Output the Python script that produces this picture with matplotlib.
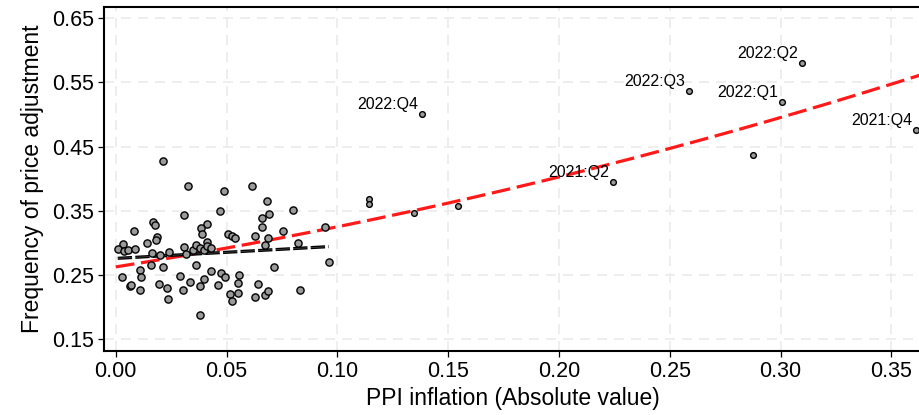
import numpy as np
import matplotlib.pyplot as plt

# observations before 2021 (the cluster)
x_pre = [0.0214, 0.0324, 0.0488, 0.0616, 0.0682, 0.0801, 0.0470, 0.0306, 0.0693, 0.0658,
         0.0170, 0.0178, 0.0410, 0.0386, 0.0660, 0.0084, 0.0755, 0.0946, 0.0388, 0.0508,
         0.0526, 0.0539, 0.0627, 0.0187, 0.0180, 0.0687, 0.0143, 0.0410, 0.0031, 0.0009,
         0.0039, 0.0056, 0.0089, 0.0164, 0.0198, 0.0241, 0.0309, 0.0319, 0.0348, 0.0360,
         0.0382, 0.0397, 0.0413, 0.0428, 0.0824, 0.0672, 0.0161, 0.0212, 0.0108, 0.0360,
         0.0428, 0.0714, 0.0961, 0.0030, 0.0113, 0.0292, 0.0397, 0.0476, 0.0495, 0.0554,
         0.0334, 0.0066, 0.0070, 0.0108, 0.0197, 0.0230, 0.0235, 0.0302, 0.0378, 0.0461,
         0.0550, 0.0517, 0.0526, 0.0553, 0.0643, 0.0630, 0.0673, 0.0689, 0.0830, 0.0379]
y_pre = [0.428, 0.389, 0.380, 0.389, 0.365, 0.351, 0.349, 0.344, 0.345, 0.338,
         0.332, 0.328, 0.330, 0.323, 0.325, 0.319, 0.319, 0.324, 0.314, 0.313,
         0.310, 0.307, 0.310, 0.309, 0.305, 0.308, 0.300, 0.302, 0.298, 0.291,
         0.287, 0.288, 0.290, 0.284, 0.281, 0.285, 0.294, 0.283, 0.288, 0.296,
         0.292, 0.289, 0.295, 0.292, 0.300, 0.296, 0.266, 0.262, 0.258, 0.265,
         0.256, 0.263, 0.270, 0.247, 0.246, 0.249, 0.244, 0.253, 0.247, 0.250,
         0.239, 0.232, 0.234, 0.227, 0.235, 0.230, 0.213, 0.226, 0.233, 0.234,
         0.238, 0.220, 0.210, 0.222, 0.236, 0.216, 0.219, 0.225, 0.226, 0.187]

# recent observations
x_post = [0.1143, 0.1143, 0.1347, 0.1543, 0.1382, 0.2244, 0.2587, 0.3096, 0.3005, 0.2875, 0.3612]
y_post = [0.368, 0.361, 0.346, 0.358, 0.501, 0.395, 0.537, 0.580, 0.520, 0.437, 0.476]
labels_post = ['', '', '', '', '2022:Q4', '2021:Q2', '2022:Q3', '2022:Q2', '2022:Q1', '', '2021:Q4']

xticks = [0.00, 0.05, 0.10, 0.15, 0.20, 0.25, 0.30, 0.35]
yticks = [0.15, 0.25, 0.35, 0.45, 0.55, 0.65]

plt.rcParams['font.family'] = ['Liberation Sans', 'DejaVu Sans']

fig = plt.figure(figsize=(9.2, 4.15), dpi=100)
ax = fig.add_axes([0.1134, 0.1542, 0.8876, 0.8296])

x_all = np.array(x_pre + x_post)
y_all = np.array(y_pre + y_post)

# quadratic fit on all observations
q = np.polyfit(x_all, y_all, 2)
xq = np.linspace(0.0, 0.3633, 200)
ax.plot(xq, np.polyval(q, xq), color='#ff1a1a', lw=2.3, ls=(0, (5.9, 2.1)), zorder=3)

# linear fit on the early sample
l = np.polyfit(x_pre, y_pre, 1)
xl = np.linspace(min(x_pre), max(x_pre), 50)
ax.plot(xl, np.polyval(l, xl), color='black', lw=2.3, ls=(0, (4.5, 1.0)), zorder=4)
ax.plot(xl, np.polyval(l, xl), color='white', lw=0.5, ls=(0, (0.7, 0.7)), alpha=0.6, zorder=4)

ax.scatter(x_pre, y_pre, s=27, facecolor='#9a9a9a', edgecolor='black', linewidth=1.0, zorder=5)
ax.scatter(x_post, y_post, s=17, facecolor='#9a9a9a', edgecolor='black', linewidth=1.0, zorder=5)

for xv, yv, lab in zip(x_post, y_post, labels_post):
    if lab:
        ax.annotate(lab, (xv, yv), xytext=(-2.7, 3.6), textcoords='offset points',
                    ha='right', va='baseline', fontsize=11.5, color='black')

ax.set_xlim(-0.00515, 0.3633)
ax.set_ylim(0.1313, 0.668)
ax.set_xticks(xticks)
ax.set_yticks(yticks)
ax.set_xticklabels(['%.2f' % v for v in xticks])
ax.set_yticklabels(['%.2f' % v for v in yticks])
ax.tick_params(labelsize=15.5, length=4.5, width=0.9, direction='out', pad=3)
ax.grid(True, color='#ebebeb', lw=1.2, ls=(0, (6, 4.2)))
ax.set_axisbelow(True)

for s in ['left', 'bottom', 'top']:
    ax.spines[s].set_linewidth(1.5)
ax.spines['right'].set_visible(False)

ax.set_xlabel('PPI inflation (Absolute value)', fontsize=16.5, labelpad=3)
ax.set_ylabel('Frequency of price adjustment', fontsize=16.5, labelpad=6)

fig.savefig('out.png', dpi=100)
